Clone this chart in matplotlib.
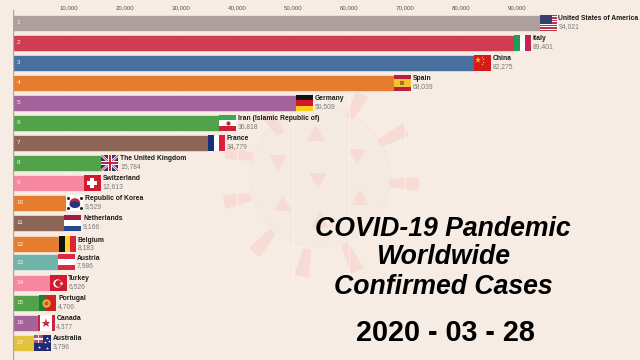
import numpy as np
import matplotlib
matplotlib.use("Agg")
import matplotlib.pyplot as plt
from matplotlib.patches import Rectangle, Polygon, Circle, Ellipse

plt.rcParams['font.family'] = ['Liberation Sans', 'DejaVu Sans']

countries = ["United States of America", "Italy", "China", "Spain", "Germany",
             "Iran (Islamic Republic of)", "France", "The United Kingdom", "Switzerland",
             "Republic of Korea", "Netherlands", "Belgium", "Austria", "Turkey",
             "Portugal", "Canada", "Australia"]
cases = [94021, 89401, 82275, 68039, 50509, 36818, 34779, 15784, 12613,
         9529, 9166, 8183, 7986, 6526, 4706, 4377, 3796]
ranks = [1, 2, 3, 4, 5, 6, 7, 8, 9, 10, 11, 12, 13, 14, 15, 16, 17]
# bars 12 and 13 are caught mid-swap in the animation
rank_pos = [1, 2, 3, 4, 5, 6, 7, 8, 9, 10, 11, 12.05, 12.95, 14, 15, 16, 17]
colors = ["#ad9f9b", "#d03c50", "#47709f", "#e67d2e", "#a4649b", "#52a24b", "#8c6554",
          "#52a24b", "#f587a1", "#e67d2e", "#8c6554", "#e67d2e", "#6fb3a9", "#f587a1",
          "#52a24b", "#a4649b", "#e3c33e"]
flags = ["us", "it", "cn", "es", "de", "ir", "fr", "gb", "ch", "kr", "nl", "be", "at",
         "tr", "pt", "ca", "au"]
xticks = [10000, 20000, 30000, 40000, 50000, 60000, 70000, 80000, 90000]
title_lines = ["COVID-19 Pandemic", "Worldwide", "Confirmed Cases"]
date_label = "2020 - 03 - 28"

BG = "#f7ece4"
VIRUS = "#f6dcd5"
FW = 3040  # flag width in cases, about 17 px
FH = 0.8   # flag height in ranks

fig = plt.figure(figsize=(6.4, 3.6), dpi=100, facecolor=BG)

# virus watermark, drawn in pixel coordinates behind the chart
bg = fig.add_axes([0, 0, 1, 1], zorder=0)
bg.set_xlim(0, 640)
bg.set_ylim(360, 0)
bg.axis("off")
bg.add_patch(Circle((320, 177), 70, fc="#f5eae2", ec="#f3e7de", lw=1))
spikes = [((380, 143), (405, 130)), ((390, 183), (418, 184)), ((345, 245), (357, 270)),
          ((307, 250), (302, 275)), ((272, 232), (255, 252)), ((250, 197), (225, 202)),
          ((252, 157), (227, 152)), ((280, 133), (266, 112)), ((350, 117), (362, 95))]
for (x0, y0), (x1, y1) in spikes:
    dx, dy = x1 - x0, y1 - y0
    n = np.hypot(dx, dy)
    px, py = -dy / n, dx / n
    bg.add_patch(Polygon([(x0 + px * 3, y0 + py * 3), (x1 + px * 6, y1 + py * 6),
                          (x1 - px * 6, y1 - py * 6), (x0 - px * 3, y0 - py * 3)],
                         fc=VIRUS, ec=VIRUS, lw=1.5, joinstyle="round"))
triangles = [(278, 161, 0), (357, 155, 0), (360, 199, 1), (283, 205, 1), (318, 179, 0),
             (316, 135, 1), (320, 222, 1)]
for cx, cy, up in triangles:
    s = -1 if up else 1
    bg.add_patch(Polygon([(cx - 7, cy - s * 5), (cx + 7, cy - s * 5), (cx, cy + s * 8)],
                         fc=VIRUS, ec=VIRUS, lw=1.5, joinstyle="round"))

ax = fig.add_axes([13 / 640, 0, 627 / 640, 1], zorder=1)
ax.patch.set_alpha(0)
ax.set_xlim(0, 627 / 5.6 * 1000)
ax.set_ylim(17.85, -0.15)
for s in ax.spines.values():
    s.set_visible(False)
ax.tick_params(left=False, bottom=False, labelleft=False, labelbottom=False)

for t in xticks:
    ax.plot([t, t], [0.35, 17.85], color="#fbf4ef", lw=0.5, zorder=1)
    ax.text(t, 0.25, f"{t:,}", ha="center", va="center", fontsize=4.4, color="#555555")
ax.plot([0, 0], [0.35, 17.85], color="#a9a5a2", lw=1.0, zorder=4)

ax.barh(rank_pos, cases, height=0.8, color=colors, edgecolor="#fbf3ee", linewidth=0.4, zorder=2)


def flag_rect(x, r, u0, v0, u1, v1, c):
    ax.add_patch(Rectangle((x + u0 * FW, r - FH / 2 + v0 * FH), (u1 - u0) * FW, (v1 - v0) * FH,
                           fc=c, ec="none", zorder=3))


def flag_line(x, r, u0, v0, u1, v1, c, lw):
    ax.plot([x + u0 * FW, x + u1 * FW], [r - FH / 2 + v0 * FH, r - FH / 2 + v1 * FH],
            color=c, lw=lw, zorder=3, solid_capstyle="butt")


def flag_dot(x, r, u, v, c, ms, marker="o"):
    ax.plot(x + u * FW, r - FH / 2 + v * FH, marker=marker, color=c, ms=ms, mew=0, zorder=3.5)


def draw_flag(code, x, r):
    if code == "us":
        flag_rect(x, r, 0, 0, 1, 1, "#ffffff")
        for i in range(0, 7):
            flag_rect(x, r, 0, i * 2 / 13, 1, (i * 2 + 1) / 13, "#b9374c")
        flag_rect(x, r, 0, 0, 0.76, 7 / 13, "#3b3f6e")
    elif code == "it":
        flag_rect(x, r, 0.02, 0, 0.36, 1, "#1f9d55")
        flag_rect(x, r, 0.36, 0, 0.68, 1, "#ffffff")
        flag_rect(x, r, 0.68, 0, 1, 1, "#c1274a")
    elif code == "cn":
        flag_rect(x, r, 0, 0, 1, 1, "#d5191c")
        flag_dot(x, r, 0.25, 0.3, "#f7d117", 4.5, "*")
        for u, v in [(0.47, 0.13), (0.55, 0.27), (0.55, 0.43), (0.47, 0.55)]:
            flag_dot(x, r, u, v, "#f7d117", 1.6, "*")
    elif code == "es":
        flag_rect(x, r, 0, 0, 1, 1, "#b8213a")
        flag_rect(x, r, 0, 0.25, 1, 0.75, "#f2c230")
        flag_rect(x, r, 0.35, 0.35, 0.6, 0.65, "#a96a2d")
    elif code == "de":
        flag_rect(x, r, 0, 0, 1, 0.34, "#111111")
        flag_rect(x, r, 0, 0.34, 1, 0.67, "#d2152a")
        flag_rect(x, r, 0, 0.67, 1, 1, "#f9cf1c")
    elif code == "ir":
        flag_rect(x, r, 0, 0, 1, 0.33, "#43a552")
        flag_rect(x, r, 0, 0.33, 1, 0.67, "#ffffff")
        flag_rect(x, r, 0, 0.67, 1, 1, "#cc2136")
        flag_dot(x, r, 0.5, 0.5, "#cc2136", 3)
    elif code == "fr":
        flag_rect(x, r, 0, 0, 0.34, 1, "#1b2f78")
        flag_rect(x, r, 0.34, 0, 0.67, 1, "#ffffff")
        flag_rect(x, r, 0.67, 0, 1, 1, "#e01f3d")
    elif code == "gb":
        flag_rect(x, r, 0, 0, 1, 1, "#27356f")
        flag_line(x, r, 0, 0, 1, 1, "#ffffff", 1.8)
        flag_line(x, r, 0, 1, 1, 0, "#ffffff", 1.8)
        flag_line(x, r, 0, 0, 1, 1, "#c8213c", 0.6)
        flag_line(x, r, 0, 1, 1, 0, "#c8213c", 0.6)
        flag_rect(x, r, 0.38, 0, 0.62, 1, "#ffffff")
        flag_rect(x, r, 0, 0.38, 1, 0.62, "#ffffff")
        flag_rect(x, r, 0.44, 0, 0.56, 1, "#c8213c")
        flag_rect(x, r, 0, 0.44, 1, 0.56, "#c8213c")
    elif code == "ch":
        flag_rect(x, r, 0, 0, 1, 1, "#d01c2e")
        flag_rect(x, r, 0.4, 0.18, 0.6, 0.82, "#ffffff")
        flag_rect(x, r, 0.2, 0.38, 0.8, 0.62, "#ffffff")
    elif code == "kr":
        flag_rect(x, r, 0, 0, 1, 1, "#ffffff")
        ax.add_patch(Ellipse((x + 0.5 * FW, r), 0.62 * FW, 0.6 * FH, fc="#c8213c", ec="none", zorder=3))
        ax.add_patch(Ellipse((x + 0.5 * FW, r + 0.1 * FH), 0.62 * FW, 0.42 * FH, fc="#24357f", ec="none", zorder=3))
        for u, v in [(0.12, 0.18), (0.88, 0.18), (0.12, 0.82), (0.88, 0.82)]:
            flag_dot(x, r, u, v, "#222222", 2.2)
    elif code == "nl":
        flag_rect(x, r, 0, 0, 1, 0.33, "#a01c3d")
        flag_rect(x, r, 0, 0.33, 1, 0.67, "#ffffff")
        flag_rect(x, r, 0, 0.67, 1, 1, "#24478f")
    elif code == "be":
        flag_rect(x, r, 0.02, 0, 0.34, 1, "#111111")
        flag_rect(x, r, 0.34, 0, 0.67, 1, "#fbd91f")
        flag_rect(x, r, 0.67, 0, 1, 1, "#dd2338")
    elif code == "at":
        flag_rect(x, r, 0, 0, 1, 0.33, "#d92a42")
        flag_rect(x, r, 0, 0.33, 1, 0.67, "#ffffff")
        flag_rect(x, r, 0, 0.67, 1, 1, "#d92a42")
    elif code == "tr":
        flag_rect(x, r, 0, 0, 1, 1, "#d11a2f")
        flag_dot(x, r, 0.42, 0.5, "#ffffff", 6)
        flag_dot(x, r, 0.48, 0.5, "#d11a2f", 4.8)
        flag_dot(x, r, 0.68, 0.5, "#ffffff", 3.2, "*")
    elif code == "pt":
        flag_rect(x, r, 0, 0, 0.4, 1, "#1f7f3a")
        flag_rect(x, r, 0.4, 0, 1, 1, "#d5201f")
        flag_dot(x, r, 0.4, 0.5, "#e3b23c", 6)
        flag_dot(x, r, 0.4, 0.5, "#c8503c", 3)
    elif code == "ca":
        flag_rect(x, r, 0, 0, 1, 1, "#ffffff")
        flag_rect(x, r, 0.0, 0, 0.17, 1, "#c9283e")
        flag_rect(x, r, 0.83, 0, 1, 1, "#c9283e")
        flag_dot(x, r, 0.5, 0.52, "#c9283e", 6.5, "*")
    elif code == "au":
        flag_rect(x, r, 0, 0, 1, 1, "#1f2a78")
        flag_rect(x, r, 0, 0, 0.5, 0.5, "#a6566f")
        flag_rect(x, r, 0.2, 0, 0.3, 0.5, "#eeeeee")
        flag_rect(x, r, 0, 0.2, 0.5, 0.3, "#eeeeee")
        for u, v in [(0.25, 0.75), (0.75, 0.2), (0.62, 0.45), (0.88, 0.4), (0.75, 0.82)]:
            flag_dot(x, r, u, v, "#ffffff", 2.2, "*")


for name, val, rk, pos, code in zip(countries, cases, ranks, rank_pos, flags):
    draw_flag(code, val, pos)
    ax.text(val + 3350, pos - 0.2, name, ha="left", va="center", fontsize=4.9,
            fontweight="bold", color="#1a1a1a", zorder=5)
    ax.text(val + 3350, pos + 0.17, f"{val:,}", ha="left", va="center", fontsize=4.9,
            color="#7d7a78", zorder=5)
    ax.text(700, pos, str(rk), ha="left", va="center", fontsize=4.6, color="#fff4ec", zorder=5)

for line, y in zip(title_lines, [229, 257, 287]):
    fig.text(443 / 640, 1 - y / 360, line, ha="center", va="center", fontsize=19.2,
             fontweight="bold", fontstyle="italic", color="black", zorder=6)
fig.text(445 / 640, 1 - 333 / 360, date_label, ha="center", va="center", fontsize=20.7,
         fontweight="bold", color="black", zorder=6)

fig.savefig("out.png", dpi=100, facecolor=BG)
